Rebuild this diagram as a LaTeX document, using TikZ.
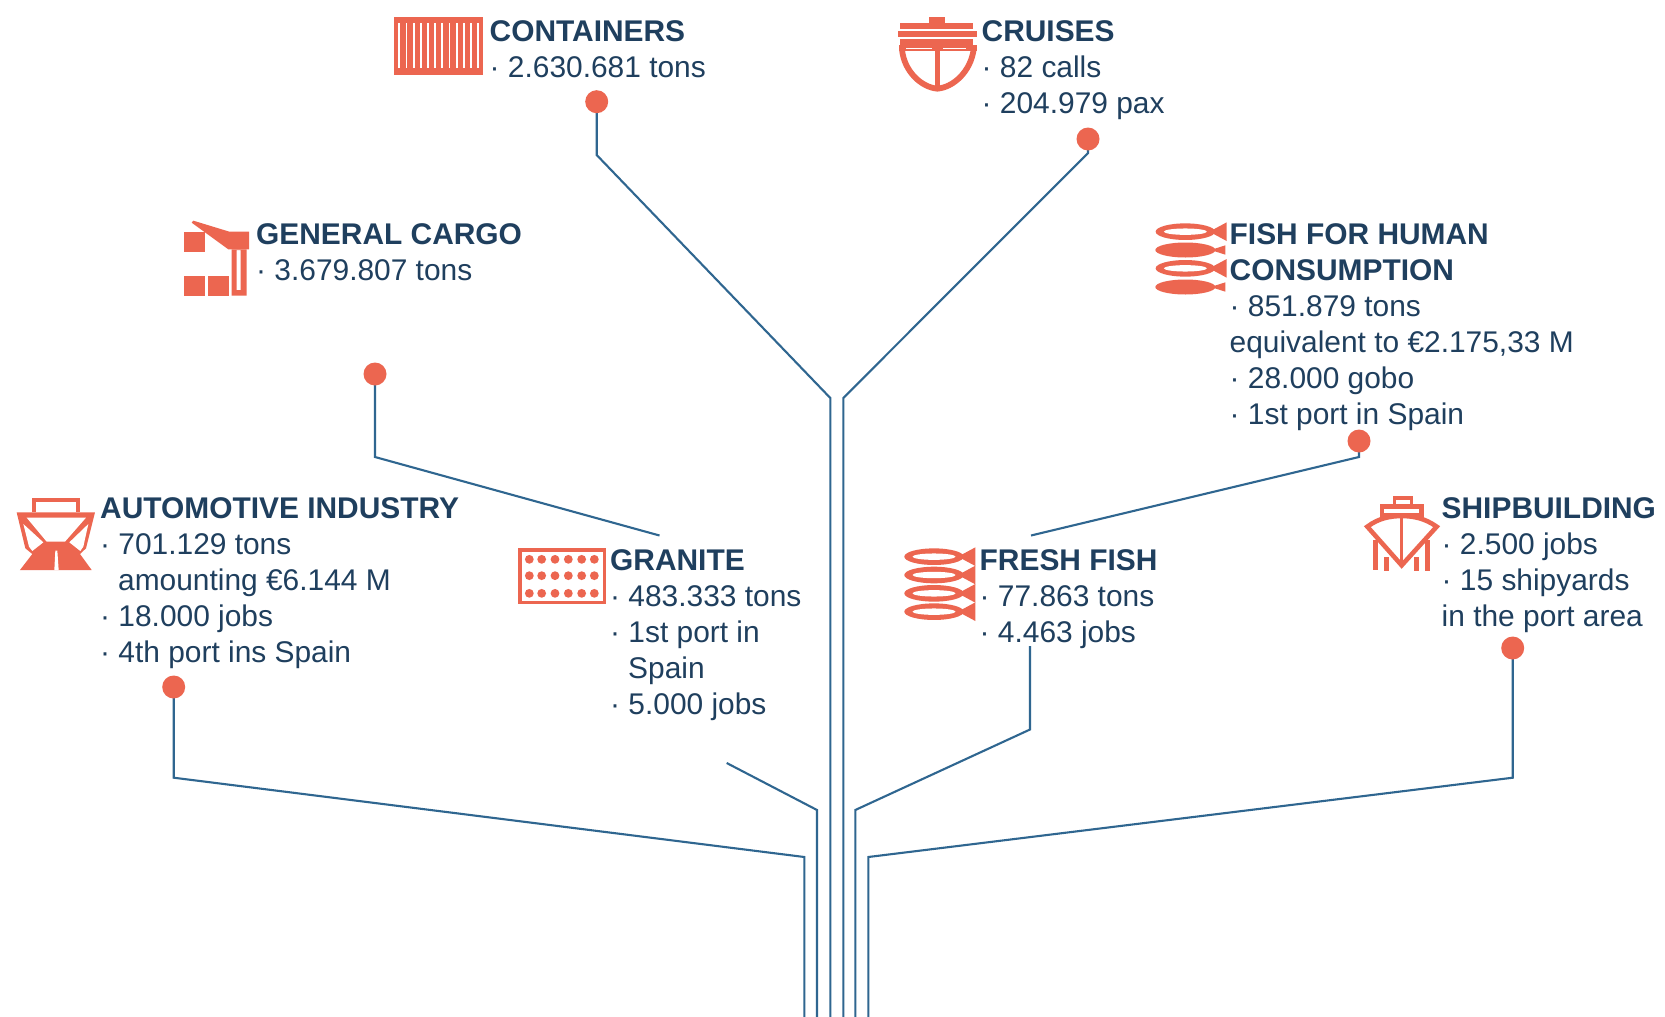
\documentclass[tikz,border=0pt]{standalone}
\usepackage{fontspec}
\setmainfont{Liberation Sans}
\definecolor{coral}{HTML}{EC6650}
\definecolor{navy}{HTML}{1F3F5E}
\definecolor{wire}{HTML}{2F6690}
\newcommand{\ttl}[1]{\rule{0pt}{24pt}\textbf{#1}}
\newcommand{\bul}{·\ }
\newcommand{\ind}{\hspace*{18pt}}
\newcommand{\ringfish}[2]{%
  \fill[coral] (#1,#2) ellipse [x radius=29.7pt,y radius=8.3pt];
  \fill[white] (#1,#2) ellipse [x radius=21.5pt,y radius=3.2pt];
  \fill[coral] (#1+72,#2) -- (#1+124,#2-28) -- (#1+124,#2+28) -- cycle;}
\newcommand{\fullfish}[1]{%
  \fill[coral] (136,#1) ellipse [x radius=30pt,y radius=7.5pt];
  \fill[coral] (212,#1) -- (256,#1-14) -- (256,#1+14) -- cycle;}
\tikzset{
  info/.style={anchor=north west,inner sep=0pt,align=left,text=navy,font=\fontsize{29.9}{36}\selectfont},
  dot/.style={circle,fill=coral,minimum size=23pt,inner sep=0pt},
  wireline/.style={draw=wire,line width=2.1pt,line join=miter},
  icon/.style={x=0.33333pt,y=-0.33333pt}
}
\begin{document}
\begin{tikzpicture}[x=1pt,y=-1pt]
\useasboundingbox (0,0) rectangle (1665,1017);
\fill[white] (0,0) rectangle (1665,1017);

% coordinates of connector bends and free ends
\coordinate (b0) at (830.3,1017);
\coordinate (b1) at (843.3,1017);
\coordinate (b2) at (817,1017);
\coordinate (b3) at (855.3,1017);
\coordinate (b4) at (804.3,1017);
\coordinate (b5) at (868.3,1017);
\coordinate (contA) at (596.7,155);
\coordinate (contB) at (830.3,398);
\coordinate (cruA) at (1088,153);
\coordinate (cruB) at (843.3,398);
\coordinate (genA) at (375,457);
\coordinate (genB) at (659.5,535.5);
\coordinate (genC) at (726.7,763);
\coordinate (genD) at (817,810);
\coordinate (fishA) at (1359,457);
\coordinate (fishB) at (1031,535.5);
\coordinate (fishC) at (1030,646);
\coordinate (fishD) at (1030,729.5);
\coordinate (fishE) at (855.3,810);
\coordinate (autoA) at (173.7,777.7);
\coordinate (autoB) at (804.3,857);
\coordinate (shipA) at (1512.7,777.7);
\coordinate (shipB) at (868.3,857);

% connectors
\draw[wireline] (596.7,101.7) -- (contA) -- (contB) -- (b0);
\draw[wireline] (1088,139) -- (cruA) -- (cruB) -- (b1);
\draw[wireline] (375,374) -- (genA) -- (genB);
\draw[wireline] (genC) -- (genD) -- (b2);
\draw[wireline] (1359,441) -- (fishA) -- (fishB);
\draw[wireline] (fishC) -- (fishD) -- (fishE) -- (b3);
\draw[wireline] (173.7,687) -- (autoA) -- (autoB) -- (b4);
\draw[wireline] (1512.7,648) -- (shipA) -- (shipB) -- (b5);

% dots
\node[dot] (dotCont) at (596.7,101.7) {};
\node[dot] (dotCru) at (1088,139) {};
\node[dot] (dotGen) at (375,374) {};
\node[dot] (dotFish) at (1359,441) {};
\node[dot] (dotAuto) at (173.7,687) {};
\node[dot] (dotShip) at (1512.7,648) {};

% texts
\node[info] (tCont) at (489.5,17.6) {\ttl{CONTAINERS}\\\bul 2.630.681 tons};
\node[info] (tCru) at (981.5,17.6) {\ttl{CRUISES}\\\bul 82 calls\\\bul 204.979 pax};
\node[info] (tGen) at (256,220.6) {\ttl{GENERAL CARGO}\\\bul 3.679.807 tons};
\node[info] (tFish) at (1229.5,220.6) {\ttl{FISH FOR HUMAN}\\\textbf{CONSUMPTION}\\\bul 851.879 tons\\equivalent to €2.175,33 M\\\bul 28.000 gobo\\\bul 1st port in Spain};
\node[info] (tAuto) at (100,494.6) {\ttl{AUTOMOTIVE INDUSTRY}\\\bul 701.129 tons\\\ind amounting €6.144 M\\\bul 18.000 jobs\\\bul 4th port ins Spain};
\node[info] (tGran) at (610,546.6) {\ttl{GRANITE}\\\bul 483.333 tons\\\bul 1st port in\\\ind Spain\\\bul 5.000 jobs};
\node[info] (tFresh) at (979.5,546.6) {\ttl{FRESH FISH}\\\bul 77.863 tons\\\bul 4.463 jobs};
\node[info] (tShip) at (1441.5,494.6) {\ttl{SHIPBUILDING}\\\bul 2.500 jobs\\\bul 15 shipyards\\in the port area};

% containers icon
\begin{scope}[shift={(370,0)},icon]
  \fill[coral] (73,50) rectangle (340,225);
  \foreach \i in {0,...,11}
    \fill[white] ({88+21.5*\i-2.7},68) rectangle ({88+21.5*\i+2.7},205);
\end{scope}

% cruises icon
\begin{scope}[shift={(880,0)},icon]
  \fill[coral] (147,50) rectangle (195,72);
  \fill[coral] (60,70) rectangle (280,88);
  \fill[coral] (55,92) rectangle (290,110);
  \fill[coral] (60,118) rectangle (280,135);
  \fill[coral] (57,135) rectangle (290,152);
  \draw[coral,line width=5.8pt] (66,148) .. controls (72,215) and (125,262) .. (172,266)
    .. controls (220,262) and (272,215) .. (281,148);
  \draw[coral,line width=4.4pt] (172,135) -- (172,266);
  \draw[white,line width=1.3pt] (78,145) -- (155,145);
  \draw[white,line width=1.3pt] (190,145) -- (258,145);
\end{scope}

% general cargo icon
\begin{scope}[shift={(170,200)},icon]
  \fill[coral] (43,95) rectangle (105,155);
  \fill[coral] (43,227) rectangle (105,287);
  \fill[coral] (115,227) rectangle (178,287);
  \fill[coral] (65,68) -- (70,62) -- (178,95) -- (237,95) -- (237,148) -- (175,148) -- cycle;
  \fill[coral,even odd rule] (185,148) rectangle (230,287) (200,150) rectangle (212,270);
\end{scope}

% fish for human consumption icon
\begin{scope}[shift={(1140,205)},icon]
  \ringfish{136}{80}
  \fullfish{135}
  \ringfish{136}{190}
  \fullfish{246}
\end{scope}

% automotive icon
\begin{scope}[shift={(0,480)},icon]
  \draw[coral,line width=4pt] (102,97) -- (102,60) -- (235,60) -- (235,97);
  \fill[coral] (50,97) -- (285,97) -- (258,205) -- (240,222) -- (275,270) -- (60,270) -- (97,222) -- (76,205) -- cycle;
  \fill[white] (80,113) -- (258,113) -- (195,185) -- (140,185) -- cycle;
  \fill[white] (70,132) -- (130,187) -- (97,213) -- (87,200) -- cycle;
  \fill[white] (265,132) -- (208,187) -- (241,213) -- (250,200) -- cycle;
  \fill[white] (166,212) -- (172,212) -- (176,270) -- (163,270) -- cycle;
\end{scope}

% granite icon
\begin{scope}[shift={(500,530)},icon]
  \draw[coral,line width=3.6pt] (60,60) rectangle (313,217);
  \foreach \yy in {88,137,190}
    \foreach \xx in {88,125,165,205,245,283}
      \fill[coral] (\xx,\yy) circle [radius=4.4pt];
\end{scope}

% fresh fish icon
\begin{scope}[shift={(890,530)},icon]
  \foreach \c in {80,135,190,245}{
    \ringfish{132}{\c}
  }
\end{scope}

% shipbuilding icon
\begin{scope}[shift={(1350,480)},icon]
  \draw[coral,line width=3.6pt] (133,76) -- (133,54) -- (184,54) -- (184,76);
  \draw[coral,line width=4.4pt] (96,106) -- (96,79) -- (214,79) -- (214,106) -- cycle;
  \draw[coral,line width=4.6pt,line join=miter] (52,140) .. controls (85,115) and (120,108) .. (155,108)
    .. controls (190,108) and (225,115) .. (260,140) -- (155,256) -- cycle;
  \draw[coral,line width=3.4pt] (155,108) -- (155,256);
  \fill[coral] (70,180) rectangle (85,270);
  \fill[coral] (103,230) rectangle (118,272);
  \fill[coral] (193,230) rectangle (208,272);
  \fill[coral] (225,180) rectangle (240,272);
\end{scope}
\end{tikzpicture}
\end{document}
